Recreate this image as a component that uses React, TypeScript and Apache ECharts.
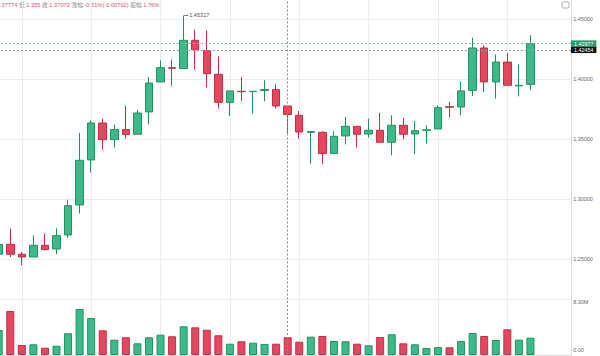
import React, { useEffect, useRef } from 'react';
import * as echarts from 'echarts';

// [open, close, low, high]
const ohlc: number[][] = [
  [1.2542, 1.2623, 1.2510, 1.2650],
  [1.2625, 1.2542, 1.2519, 1.2756],
  [1.2542, 1.2519, 1.2450, 1.2561],
  [1.2519, 1.2617, 1.2519, 1.2700],
  [1.2617, 1.2581, 1.2575, 1.2714],
  [1.2586, 1.2697, 1.2542, 1.2758],
  [1.2703, 1.2947, 1.2678, 1.2997],
  [1.2953, 1.3325, 1.2881, 1.3553],
  [1.3328, 1.3636, 1.3222, 1.3658],
  [1.3636, 1.3497, 1.3414, 1.3672],
  [1.3497, 1.3581, 1.3431, 1.3622],
  [1.3581, 1.3539, 1.3506, 1.3778],
  [1.3542, 1.3719, 1.3542, 1.3747],
  [1.3728, 1.3969, 1.3625, 1.4019],
  [1.3978, 1.4097, 1.3978, 1.4158],
  [1.4097, 1.4092, 1.3947, 1.4164],
  [1.4089, 1.4325, 1.4089, 1.45317],
  [1.4325, 1.4247, 1.4081, 1.4414],
  [1.4239, 1.4047, 1.3931, 1.4408],
  [1.4042, 1.3808, 1.3756, 1.4192],
  [1.3806, 1.3903, 1.3694, 1.3903],
  [1.3900, 1.3897, 1.3819, 1.4019],
  [1.3897, 1.3900, 1.3714, 1.3900],
  [1.3906, 1.3914, 1.3817, 1.3992],
  [1.3914, 1.37774, 1.3756, 1.3958],
  [1.37774, 1.37072, 1.355, 1.37774],
  [1.3700, 1.3561, 1.3506, 1.3736],
  [1.3558, 1.3564, 1.3297, 1.3564],
  [1.3558, 1.3381, 1.3292, 1.3567],
  [1.3381, 1.3525, 1.3381, 1.3567],
  [1.3528, 1.3608, 1.3458, 1.3686],
  [1.3608, 1.3542, 1.3431, 1.3608],
  [1.3544, 1.3575, 1.3514, 1.3672],
  [1.3575, 1.3475, 1.3475, 1.3719],
  [1.3475, 1.3617, 1.3367, 1.3700],
  [1.3617, 1.3542, 1.3500, 1.3678],
  [1.3544, 1.3572, 1.3375, 1.3653],
  [1.3575, 1.3579, 1.3464, 1.3617],
  [1.3586, 1.3764, 1.3586, 1.3783],
  [1.3772, 1.3767, 1.3681, 1.3811],
  [1.3769, 1.3903, 1.3700, 1.3983],
  [1.3908, 1.4261, 1.3861, 1.4347],
  [1.4261, 1.3978, 1.3894, 1.4283],
  [1.3978, 1.4144, 1.3839, 1.4208],
  [1.4144, 1.3950, 1.3950, 1.4219],
  [1.3945, 1.3950, 1.3858, 1.4125],
  [1.3958, 1.42977, 1.3908, 1.4367],
];

// volume in millions
const volumes: number[] = [
  3.74, 6.58, 1.50, 1.60, 1.09, 1.39, 3.25, 6.88, 5.53, 3.69,
  2.29, 2.65, 1.75, 2.65, 3.04, 2.80, 4.29, 4.14, 3.78, 2.95,
  1.69, 2.05, 1.84, 1.65, 1.69, 2.65, 1.99, 2.74, 2.84, 2.09,
  2.05, 1.69, 1.45, 2.69, 3.10, 1.75, 1.60, 1.05, 1.20, 1.15,
  2.09, 3.29, 2.84, 2.24, 3.84, 2.29, 2.59,
];

const emptySlots = 3;
const categories: string[] = Array.from({ length: ohlc.length + emptySlots }, (_, i) => `K${i + 1}`);

const lastPrice = 1.42977;
const crossPrice = 1.42454;
const crossIndex = 25;
const volumeMax = 8.3;

const headerParts: [string, string][] = [
  ['', '.37774'],
  ['低:', '1.355'],
  ['收:', '1.37072'],
  ['涨幅:', '-0.51%(-0.00702)'],
  ['振幅:', '1.76%'],
];

const UP = '#3dba8b';
const UP_BORDER = '#23915f';
const DOWN = '#e5475f';
const DOWN_BORDER = '#c12f48';
const GRID_LINE = '#ececec';
const AXIS_TEXT = '#666';
const FONT = "'Liberation Sans', 'Noto Sans CJK SC', sans-serif";

export default function App() {
  const ref = useRef<HTMLDivElement>(null);

  useEffect(() => {
    if (!ref.current) return;
    const chart = echarts.init(ref.current, null, { renderer: 'svg' });

    const candleData = ohlc.map(([o, c, l, h]) => [o, c, l, h]);
    const volData = volumes.map((v, i) => {
      const up = ohlc[i][1] >= ohlc[i][0];
      return {
        value: v,
        itemStyle: { color: up ? UP : DOWN, borderColor: up ? UP_BORDER : DOWN_BORDER, borderWidth: 1 },
      };
    });

    const headerText = headerParts
      .map(([l, v]) => (l ? `{l|${l}}{v|${v}}` : `{v|${v}}`))
      .join('{l| }');

    const left = -7.08;
    const right = 29.1;

    chart.setOption({
      animation: false,
      backgroundColor: '#fff',
      textStyle: { fontFamily: FONT },
      grid: [
        { left, right, top: -40.7, bottom: 56.5, outerBoundsMode: 'none', containLabel: false },
        { left, right, top: 299.5, bottom: 1, outerBoundsMode: 'none', containLabel: false },
        { left: 21.82, right, top: 0, bottom: 0, outerBoundsMode: 'none', containLabel: false },
      ],
      xAxis: [
        {
          type: 'category', gridIndex: 0, data: categories, boundaryGap: true,
          axisLine: { show: false }, axisTick: { show: false }, axisLabel: { show: false }, splitLine: { show: false },
        },
        {
          type: 'category', gridIndex: 1, data: categories, boundaryGap: true,
          axisLine: { show: true, lineStyle: { color: '#dcdcdc', width: 1 } },
          axisTick: { show: false }, axisLabel: { show: false }, splitLine: { show: false },
        },
        {
          type: 'value', gridIndex: 2, min: 0, max: 47.5, interval: 6,
          axisLine: { show: false }, axisTick: { show: false }, axisLabel: { show: false },
          splitLine: { show: true, lineStyle: { color: GRID_LINE, width: 1 } },
        },
      ],
      yAxis: [
        {
          type: 'value', gridIndex: 0, position: 'right', min: 1.2165, max: 1.5, splitNumber: 6,
          axisLine: { show: true, lineStyle: { color: '#dcdcdc' } },
          axisTick: { show: false },
          axisLabel: {
            show: true, showMinLabel: false, showMaxLabel: false, margin: 2.4,
            color: AXIS_TEXT, fontSize: 5.4, fontFamily: FONT,
            formatter: (v: number) => v.toFixed(5),
          },
          splitLine: { show: true, lineStyle: { color: GRID_LINE, width: 1 } },
        },
        {
          type: 'value', gridIndex: 1, position: 'right', min: 0, max: volumeMax, interval: volumeMax,
          axisLine: { show: true, lineStyle: { color: '#dcdcdc' } },
          axisTick: { show: false },
          axisLabel: {
            show: true, margin: 2.4, color: AXIS_TEXT, fontSize: 5.4, fontFamily: FONT,
            formatter: (v: number) => (v === 0 ? '{b|0.00}' : `{t|${v.toFixed(2)}M}`),
            rich: {
              t: { fontSize: 5.4, color: AXIS_TEXT, padding: [4, 0, 0, 0] },
              b: { fontSize: 5.4, color: AXIS_TEXT, padding: [0, 0, 10, 0] },
            },
          },
          splitLine: { show: true, lineStyle: { color: GRID_LINE, width: 1 } },
        },
        { type: 'value', gridIndex: 2, show: false, min: 0, max: 1 },
      ],
      series: [
        {
          type: 'scatter', xAxisIndex: 2, yAxisIndex: 2, data: [], silent: true,
        },
        {
          type: 'candlestick', xAxisIndex: 0, yAxisIndex: 0, data: candleData, barWidth: 8,
          itemStyle: {
            color: UP, color0: DOWN, borderColor: UP_BORDER, borderColor0: DOWN_BORDER, borderWidth: 1,
          },
          markPoint: {
            silent: true,
            symbol: 'rect',
            symbolSize: [4, 0.8],
            itemStyle: { color: '#555' },
            label: {
              show: true, position: 'right', distance: 1, color: '#555', fontSize: 5.6, fontFamily: FONT,
              formatter: (p: any) => Number(p.value).toFixed(5),
            },
            data: [{ type: 'max', valueDim: 'highest', symbolOffset: [2.5, 0] }],
          },
          markLine: {
            silent: true,
            symbol: 'none',
            precision: 5,
            animation: false,
            data: [
              {
                yAxis: lastPrice,
                lineStyle: { color: '#8fb3a5', type: [2, 2], width: 1 },
                label: {
                  show: true, position: 'end', distance: 0, formatter: lastPrice.toFixed(5),
                  backgroundColor: '#1f9f6f', color: '#fff', fontSize: 5.4, lineHeight: 6.4,
                  padding: [0, 3], fontFamily: FONT,
                },
              },
              {
                yAxis: crossPrice,
                lineStyle: { color: '#9a9a9a', type: [2, 2], width: 1 },
                label: {
                  show: true, position: 'end', distance: 0, formatter: crossPrice.toFixed(5),
                  backgroundColor: '#111', color: '#fff', fontSize: 5.4, lineHeight: 6.4,
                  padding: [0, 3], fontFamily: FONT,
                },
              },
              {
                xAxis: crossIndex,
                lineStyle: { color: '#8a8a8a', type: [2, 2], width: 1 },
                label: { show: false },
              },
            ],
          },
        },
        {
          type: 'bar', xAxisIndex: 1, yAxisIndex: 1, data: volData, barWidth: 8,
          markLine: {
            silent: true,
            symbol: 'none',
            data: [
              {
                xAxis: crossIndex,
                lineStyle: { color: '#8a8a8a', type: [2, 2], width: 1 },
                label: { show: false },
              },
            ],
          },
        },
      ],
      graphic: [
        {
          type: 'text', x: 0, y: 2.5, silent: true,
          style: {
            text: headerText,
            fontSize: 5.7,
            fontFamily: FONT,
            fill: '#777',
            rich: {
              l: { fill: '#8a8a8a', color: '#8a8a8a', fontSize: 5.7, fontFamily: FONT },
              v: { fill: '#d9546c', color: '#d9546c', fontSize: 5.7, fontFamily: FONT },
            },
          },
        },
        {
          type: 'rect', x: 562, y: 2, silent: true,
          shape: { width: 7, height: 6, r: 1 },
          style: { fill: '#fff', stroke: '#999', lineWidth: 0.8 },
        },
      ],
    });

    return () => chart.dispose();
  }, []);

  return (
    <div
      ref={ref}
      style={{ position: 'fixed', left: 0, top: 0, width: 600, height: 356 }}
    />
  );
}
